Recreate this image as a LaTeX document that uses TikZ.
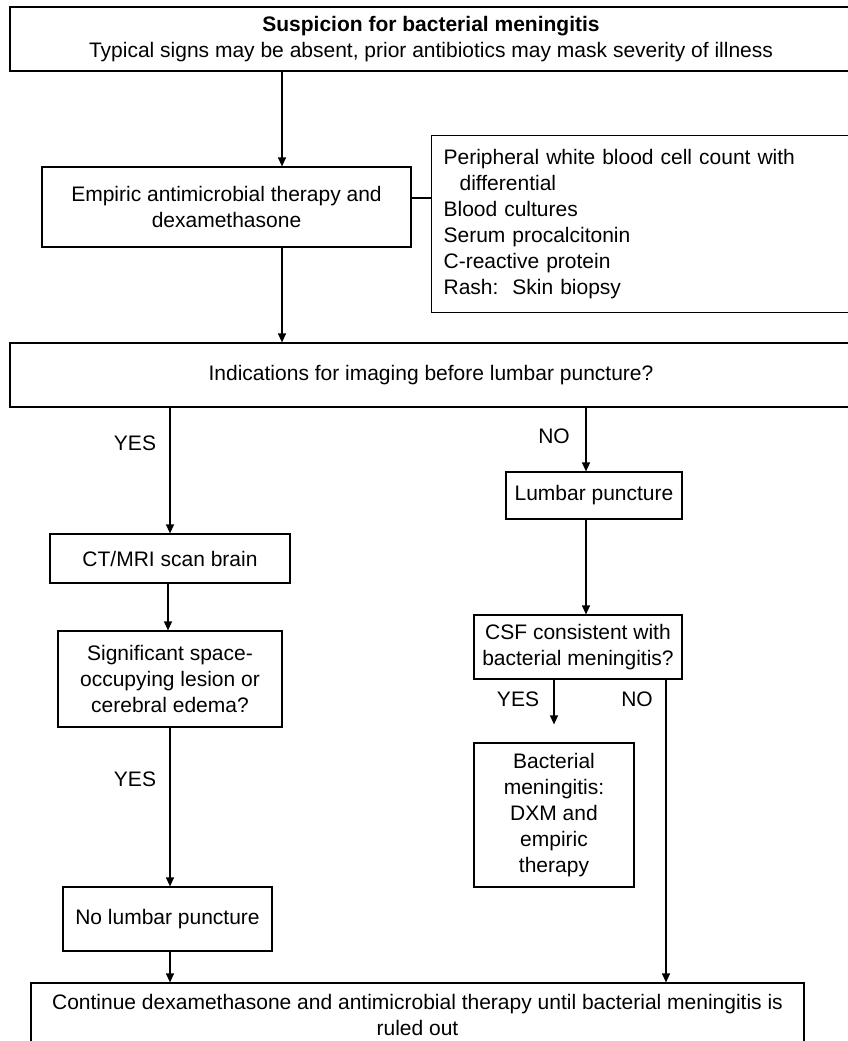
\documentclass[tikz,border=0pt]{standalone}
\usepackage{fontspec}
\setmainfont{Liberation Sans}
\usetikzlibrary{arrows.meta}
\begin{document}
\begin{tikzpicture}[x=1pt,y=-1pt,
  txt/.style={font=\fontsize{21}{26}\selectfont},
  box/.style={draw, line width=1.2pt, inner sep=0pt, align=center, txt},
  lbl/.style={inner sep=0pt, txt},
  arr/.style={line width=1.2pt, -{Triangle[length=9pt,width=8pt]}},
  ln/.style={line width=1.2pt}]
\useasboundingbox (0,0) rectangle (848,1041);
\clip (0,0) rectangle (848,1041);

\node[box, minimum width=842pt, minimum height=64pt] (top) at (431,39)
  {\textbf{Suspicion for bacterial meningitis}\\Typical signs may be absent, prior antibiotics may mask severity of illness};
\node[box, minimum width=369pt, minimum height=80pt] (emp) at (226.5,207)
  {Empiric antimicrobial therapy and\\dexamethasone};
\node[draw, line width=1.2pt, txt, anchor=north west, align=left, text width=400pt,
      inner xsep=12pt, inner ysep=0pt, minimum height=177pt] (side) at (431,135)
  {Peripheral white blood cell count with\\\hspace*{16pt}differential\\Blood cultures\\Serum procalcitonin\\C-reactive protein\\Rash:\ \ Skin biopsy};
\node[box, minimum width=842pt, minimum height=64pt] (ind) at (431,375)
  {Indications for imaging before lumbar puncture?};
\node[box, minimum width=240pt, minimum height=49pt] (ct) at (170,558.5)
  {CT/MRI scan brain};
\node[box, minimum width=224pt, minimum height=96pt] (sig) at (170,679)
  {Significant space-\\occupying lesion or\\cerebral edema?};
\node[box, minimum width=209pt, minimum height=64pt] (nolp) at (167.5,919)
  {No lumbar puncture};
\node[box, minimum width=176pt, minimum height=47pt] (lp) at (594,495.5)
  {Lumbar puncture};
\node[box, minimum width=208pt, minimum height=64pt] (csf) at (578,647)
  {CSF consistent with\\bacterial meningitis?};
\node[box, minimum width=160pt, minimum height=144pt] (bact) at (554,815)
  {Bacterial\\meningitis:\\DXM and\\empiric\\therapy};
\node[box, minimum width=773pt, minimum height=63pt] (cont) at (417.5,1014.5)
  {Continue dexamethasone and antimicrobial therapy until bacterial meningitis is\\ruled out};

\node[lbl] (yes1) at (135,443) {YES};
\node[lbl] (no1) at (554,436) {NO};
\node[lbl] (yes2) at (135,779) {YES};
\node[lbl] (yes3) at (518,699) {YES};
\node[lbl] (no2) at (637,699) {NO};

\draw[arr] ([xshift=55.5pt]emp.north |- top.south) -- ([xshift=55.5pt]emp.north);
\draw[arr] ([xshift=55.5pt]emp.south) -- ([xshift=55.5pt]emp.south |- ind.north);
\draw[ln] ([yshift=9pt]emp.east) -- ([yshift=9pt]emp.east -| side.west);
\draw[arr] (ct.north |- ind.south) -- (ct.north);
\draw[arr] ([xshift=-2pt]ct.south) -- ([xshift=-2pt]ct.south |- sig.north);
\draw[arr] (sig.south) -- (sig.south |- nolp.north);
\draw[arr] (sig.south |- nolp.south) -- (sig.south |- cont.north);
\draw[arr] ([xshift=-8pt]lp.north |- ind.south) -- ([xshift=-8pt]lp.north);
\draw[arr] ([xshift=-8pt]lp.south) -- ([xshift=-8pt]lp.south |- csf.north);
\draw[arr, shorten >=18pt] (bact.north |- csf.south) -- (bact.north);
\draw[arr] ([xshift=88pt]csf.south) -- ([xshift=88pt]csf.south |- cont.north);
\end{tikzpicture}
\end{document}
